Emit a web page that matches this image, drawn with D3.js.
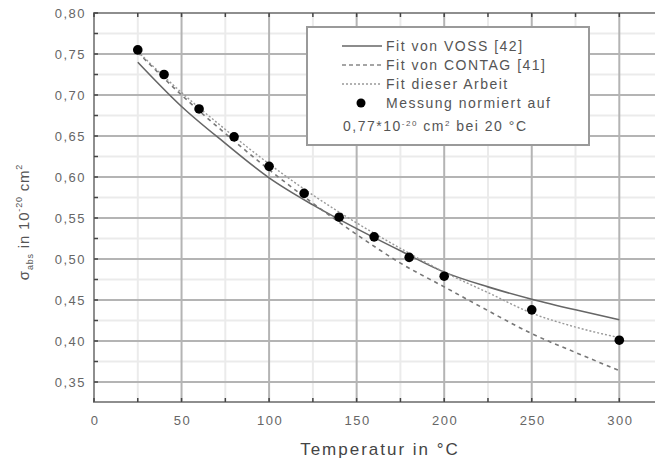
<!DOCTYPE html>
<meta charset="utf-8">
<style>
    body { margin: 0; background: #fff; }
    svg { font-family: "Liberation Sans", Arial, sans-serif; }
    .grid-major { stroke: #b4b4b4; stroke-width: 2px; }
    .grid-minor { stroke: #ebebeb; stroke-width: 2px; }
    .frame { stroke: #8e8e8e; stroke-width: 2px; fill: none; }
    .tick-lab { fill: #666; font-size: 13px; letter-spacing: 1.5px; }
    .curve { fill: none; }
    .legend text { fill: #555; font-size: 14px; letter-spacing: 1.5px; }
</style>
<body>
<script src="https://cdn.jsdelivr.net/npm/d3@7"></script>
<script>

// measured points (temperature in °C, sigma in 1e-20 cm^2)
var messT = [25, 40, 60, 80, 100, 120, 140, 160, 180, 200, 250, 300];
var messS = [0.755, 0.725, 0.683, 0.649, 0.613, 0.580, 0.551, 0.527, 0.502, 0.479, 0.438, 0.401];

// fit curves
var fitT = [25, 50, 75, 100, 125, 150, 175, 200, 225, 250, 275, 300];
var voss = [0.740, 0.686, 0.641, 0.599, 0.566, 0.537, 0.510, 0.484, 0.466, 0.451, 0.438, 0.426];
var contag = [0.752, 0.700, 0.653, 0.609, 0.568, 0.530, 0.495, 0.466, 0.437, 0.409, 0.386, 0.364];
var arbeit = [0.753, 0.703, 0.658, 0.616, 0.578, 0.544, 0.513, 0.484, 0.459, 0.434, 0.417, 0.404];

var xTicks = [0, 50, 100, 150, 200, 250, 300];
var yTicks = [0.35, 0.40, 0.45, 0.50, 0.55, 0.60, 0.65, 0.70, 0.75, 0.80];
var legendLabels = ["Fit von VOSS [42]", "Fit von CONTAG [41]", "Fit dieser Arbeit", "Messung normiert auf"];

var W = 655, H = 461;
var pLeft = 94, pTop = 13, pBottom = 402;

var x = d3.scaleLinear().domain([0, 325]).range([pLeft, pLeft + 325 * 1.751]);
var y = d3.scaleLinear().domain([0.35, 0.80]).range([382, pTop]);

var svg = d3.select("body").append("svg")
    .attr("width", W)
    .attr("height", H);

svg.append("rect").attr("width", W).attr("height", H).attr("fill", "#fff");

// grid
var xMinor = d3.range(25, 326, 50);
var yMinor = d3.range(0.375, 0.80, 0.05);

svg.append("g").selectAll("line").data(xMinor).enter().append("line")
    .attr("class", "grid-minor")
    .attr("x1", function (d) { return x(d); }).attr("x2", function (d) { return x(d); })
    .attr("y1", pTop).attr("y2", pBottom);
svg.append("g").selectAll("line").data(yMinor).enter().append("line")
    .attr("class", "grid-minor")
    .attr("x1", pLeft).attr("x2", W)
    .attr("y1", function (d) { return y(d); }).attr("y2", function (d) { return y(d); });
svg.append("g").selectAll("line").data(xTicks.slice(1)).enter().append("line")
    .attr("class", "grid-major")
    .attr("x1", function (d) { return x(d); }).attr("x2", function (d) { return x(d); })
    .attr("y1", pTop).attr("y2", pBottom);
svg.append("g").selectAll("line").data(yTicks.slice(0, -1)).enter().append("line")
    .attr("class", "grid-major")
    .attr("x1", pLeft).attr("x2", W)
    .attr("y1", function (d) { return y(d); }).attr("y2", function (d) { return y(d); });

// frame
svg.append("path").attr("class", "frame")
    .attr("d", "M" + W + "," + pTop + "H" + pLeft + "V" + pBottom + "H" + W);

// inward ticks
var allX = d3.range(0, 326, 25);
var allY = d3.range(0.35, 0.801, 0.025);
var tk = svg.append("g").attr("stroke", "#444").attr("stroke-width", 1.5);
tk.selectAll(".tb").data(allX).enter().append("line")
    .attr("x1", function (d) { return x(d); }).attr("x2", function (d) { return x(d); })
    .attr("y1", pBottom).attr("y2", pBottom - 4);
tk.selectAll(".tt").data(allX).enter().append("line")
    .attr("x1", function (d) { return x(d); }).attr("x2", function (d) { return x(d); })
    .attr("y1", pTop).attr("y2", pTop + 4);
tk.selectAll(".tl").data(allY).enter().append("line")
    .attr("x1", pLeft).attr("x2", pLeft + 4)
    .attr("y1", function (d) { return y(d); }).attr("y2", function (d) { return y(d); });

// tick labels
svg.append("g").selectAll("text").data(xTicks).enter().append("text")
    .attr("class", "tick-lab")
    .attr("x", function (d) { return x(d) + 1; })
    .attr("y", 425)
    .attr("text-anchor", "middle")
    .text(function (d) { return d; });
svg.append("g").selectAll("text").data(yTicks).enter().append("text")
    .attr("class", "tick-lab")
    .attr("x", 86)
    .attr("y", function (d) { return y(d); })
    .attr("dy", "0.35em")
    .attr("text-anchor", "end")
    .text(function (d) { return d3.format(".2f")(d).replace(".", ","); });

// axis titles
svg.append("text")
    .attr("x", 380).attr("y", 455)
    .attr("text-anchor", "middle")
    .attr("fill", "#444")
    .style("font-size", "17px")
    .style("letter-spacing", "2px")
    .text("Temperatur in °C");

var yt = svg.append("text")
    .attr("transform", "translate(29,222) rotate(-90)")
    .attr("text-anchor", "middle")
    .attr("fill", "#555")
    .style("font-size", "15px")
    .style("letter-spacing", "0.8px");
yt.append("tspan").text("σ");
yt.append("tspan").attr("dy", 4).style("font-size", "9px").text("abs");
yt.append("tspan").attr("dy", -4).text(" in 10");
yt.append("tspan").attr("dy", -7).style("font-size", "9px").text("-20");
yt.append("tspan").attr("dy", 7).text(" cm");
yt.append("tspan").attr("dy", -7).style("font-size", "9px").text("2");

// curves
var line = d3.line()
    .x(function (d) { return x(d[0]); })
    .y(function (d) { return y(d[1]); })
    .curve(d3.curveMonotoneX);

function pairs(ys) { return fitT.map(function (t, i) { return [t, ys[i]]; }); }

svg.append("path").datum(pairs(voss)).attr("class", "curve")
    .attr("stroke", "#666").attr("stroke-width", 1.6).attr("d", line);
svg.append("path").datum(pairs(contag)).attr("class", "curve")
    .attr("stroke", "#777").attr("stroke-width", 1.6).attr("stroke-dasharray", "4,4").attr("d", line);
svg.append("path").datum(pairs(arbeit)).attr("class", "curve")
    .attr("stroke", "#999").attr("stroke-width", 1.4).attr("stroke-dasharray", "2,2").attr("d", line);

svg.append("g").selectAll("circle").data(messT).enter().append("circle")
    .attr("cx", function (d) { return x(d); })
    .attr("cy", function (d, i) { return y(messS[i]); })
    .attr("r", 4.8)
    .attr("fill", "#000");

// legend
var lg = svg.append("g").attr("class", "legend");
lg.append("rect")
    .attr("x", 307).attr("y", 27).attr("width", 282).attr("height", 118)
    .attr("fill", "#fff").attr("stroke", "#9a9a9a").attr("stroke-width", 2);

var styles = [
    { stroke: "#666", dash: null },
    { stroke: "#888", dash: "4,3" },
    { stroke: "#999", dash: "2,2" }
];
legendLabels.forEach(function (lab, i) {
    var ly = 46 + i * 19;
    if (i < 3) {
        lg.append("line")
            .attr("x1", 342).attr("x2", 382).attr("y1", ly).attr("y2", ly)
            .attr("stroke", styles[i].stroke).attr("stroke-width", 1.6)
            .attr("stroke-dasharray", styles[i].dash);
    } else {
        lg.append("circle").attr("cx", 361).attr("cy", ly).attr("r", 4.5).attr("fill", "#000");
    }
    lg.append("text").attr("x", 386).attr("y", ly).attr("dy", "0.35em").text(lab);
});
var nt = lg.append("text").attr("x", 343).attr("y", 126).attr("dy", "0.35em");
nt.append("tspan").text("0,77*10");
nt.append("tspan").attr("dy", -5).style("font-size", "8px").text("-20");
nt.append("tspan").attr("dy", 5).text(" cm");
nt.append("tspan").attr("dy", -5).style("font-size", "8px").text("2");
nt.append("tspan").attr("dy", 5).text("  bei 20 °C");

</script>
</body>
